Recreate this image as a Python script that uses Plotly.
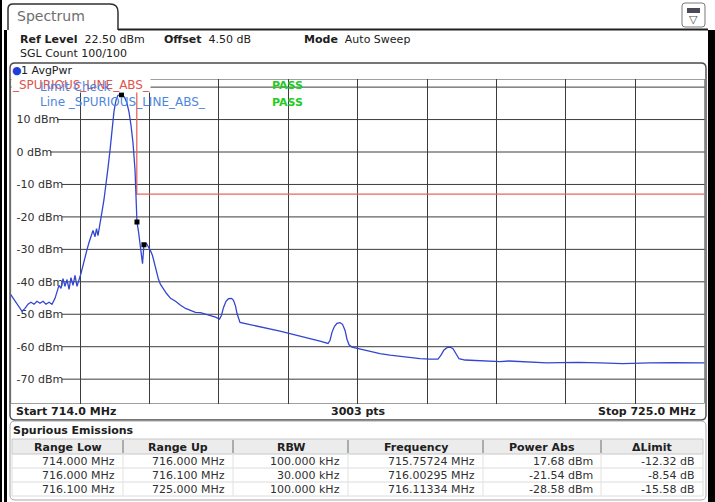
import plotly.graph_objects as go

W, H = 715, 502
def px(x): return x / W
def py(y): return 1 - y / H

# ---------------- data ----------------
freq_mhz = [714.000, 714.054, 714.117, 714.181, 714.228, 714.276, 714.323, 714.371, 714.418, 714.466,
            714.514, 714.561, 714.609, 714.656, 714.704, 714.735, 714.767, 714.799, 714.831, 714.862,
            714.894, 714.926, 714.957, 714.989, 715.021, 715.052, 715.084, 715.116, 715.147, 715.179,
            715.211, 715.243, 715.274, 715.306, 715.338, 715.362, 715.385, 715.417, 715.449, 715.480,
            715.512, 715.544, 715.576, 715.607, 715.639, 715.671, 715.702, 715.734, 715.757, 715.782,
            715.813, 715.845, 715.877, 715.908, 715.940, 715.972, 715.996, 716.003, 716.027, 716.043,
            716.059, 716.075, 716.091, 716.102, 716.113, 716.154, 716.186, 716.218, 716.249, 716.281,
            716.313, 716.345, 716.376, 716.424, 716.472, 716.535, 716.614, 716.694, 716.773, 716.852,
            716.931, 717.010, 717.090, 717.169, 717.248, 717.311, 717.343, 717.375, 717.414, 717.454,
            717.502, 717.533, 717.565, 717.588, 717.612, 717.636, 717.794, 717.953, 718.111, 718.270,
            718.428, 718.587, 718.746, 718.904, 719.031, 719.063, 719.095, 719.134, 719.173, 719.221,
            719.261, 719.300, 719.332, 719.364, 719.411, 719.538, 719.696, 719.855, 720.013, 720.172,
            720.330, 720.489, 720.647, 720.774, 720.822, 720.869, 720.917, 720.964, 721.012, 721.060,
            721.107, 721.202, 721.440, 721.757, 721.900, 722.232, 722.500, 722.708, 723.000, 723.342,
            723.700, 724.134, 724.500, 725.000]
level_dbm = [-43.9, -45.4, -47.5, -49.1, -48.2, -46.9, -46.3, -46.9, -46.0, -46.6,
             -46.0, -46.9, -46.3, -46.9, -45.1, -42.9, -41.1, -42.0, -39.0, -41.4,
             -39.3, -42.3, -38.7, -41.1, -38.0, -41.4, -39.6, -37.4, -35.0, -32.2,
             -30.1, -27.9, -25.8, -24.2, -26.1, -23.6, -25.8, -21.5, -18.4, -14.7,
             -10.4, -4.9, 0.6, 7.4, 12.6, 16.0, 17.5, 17.6, 17.68, 17.5,
             16.6, 15.0, 12.3, 8.3, 2.8, -5.5, -14.7, -21.54, -24.5, -27.0,
             -30.1, -32.5, -34.4, -31.5, -28.58, -28.2, -29.1, -30.4, -31.9, -34.4,
             -37.1, -39.3, -40.8, -42.3, -43.6, -45.1, -46.0, -47.2, -48.2, -48.8,
             -49.4, -49.5, -50.0, -50.3, -50.9, -51.5, -50.3, -47.9, -46.0, -45.2,
             -45.1, -45.7, -47.5, -49.7, -51.5, -52.5, -53.2, -53.8, -54.6, -55.2,
             -56.0, -56.7, -57.5, -58.3, -59.0, -58.0, -55.5, -53.7, -52.8, -52.6,
             -53.1, -54.9, -57.7, -59.4, -60.1, -60.7, -61.5, -62.1, -62.6, -63.0,
             -63.3, -63.7, -63.8, -63.8, -62.6, -61.0, -60.3, -60.1, -60.6, -62.0,
             -63.7, -64.1, -64.3, -64.6, -64.4, -64.7, -65.0, -64.9, -64.8, -65.0,
             -65.2, -65.0, -64.9, -65.0]

limit_freq = [714.0, 716.0, 716.0, 716.1, 725.0]
limit_dbm = [30.0, 30.0, -13.0, -13.0, -13.0]

peak_freq = [715.75724, 716.00295, 716.11334]
peak_dbm = [17.68, -21.54, -28.58]

y_tick_vals = [10, 0, -10, -20, -30, -40, -50, -60, -70]
y_tick_labels = ['10 dBm', '0 dBm', '-10 dBm', '-20 dBm', '-30 dBm', '-40 dBm', '-50 dBm', '-60 dBm', '-70 dBm']

table_header = ['Range Low', 'Range Up', 'RBW', 'Frequency', 'Power Abs', 'ΔLimit']
range_low = ['714.000 MHz', '716.000 MHz', '716.100 MHz']
range_up = ['716.000 MHz', '716.100 MHz', '725.000 MHz']
rbw = ['100.000 kHz', '30.000 kHz', '100.000 kHz']
frequency = ['715.75724 MHz', '716.00295 MHz', '716.11334 MHz']
power_abs = ['17.68 dBm', '-21.54 dBm', '-28.58 dBm']
delta_limit = ['-12.32 dB', '-8.54 dB', '-15.58 dB']

# ---------------- style ----------------
FONT = 'DejaVu Sans'
TRACE_C = '#3346d0'
LIMIT_C = '#e8665e'
GRID_C = '#3c3c3c'
BLUE_TXT = '#4d86dc'
GREEN_TXT = '#22cc22'
RED_TXT = '#e0544c'

X0P, X1P = 10.6, 704.6   # plot pixel extents
Y0P, Y1P = 79.0, 403.5

fig = go.Figure()
fig.add_trace(go.Scatter(x=limit_freq, y=limit_dbm, mode='lines',
                         line=dict(color=LIMIT_C, width=1.3), hoverinfo='skip'))
fig.add_trace(go.Scatter(x=freq_mhz, y=level_dbm, mode='lines',
                         line=dict(color=TRACE_C, width=1.3)))
fig.add_trace(go.Scatter(x=peak_freq, y=peak_dbm, mode='markers',
                         marker=dict(symbol='square', size=5, color='black')))

shapes = []
def line(x0, y0, x1, y1, color, w=1, layer='above'):
    shapes.append(dict(type='line', xref='paper', yref='paper', x0=px(x0), y0=py(y0),
                       x1=px(x1), y1=py(y1), line=dict(color=color, width=w), layer=layer))
def rect(x0, y0, x1, y1, fill, color=None, w=0, layer='below'):
    shapes.append(dict(type='rect', xref='paper', yref='paper', x0=px(x0), y0=py(y0),
                       x1=px(x1), y1=py(y1), fillcolor=fill,
                       line=dict(color=color or fill, width=w), layer=layer))
def rrect(x0, y0, x1, y1, r, color, w=1, layer='above', fill=None):
    P = lambda x, y: f"{px(x):.5f},{py(y):.5f}"
    path = (f"M {P(x0+r,y0)} L {P(x1-r,y0)} Q {P(x1,y0)} {P(x1,y0+r)} "
            f"L {P(x1,y1-r)} Q {P(x1,y1)} {P(x1-r,y1)} L {P(x0+r,y1)} "
            f"Q {P(x0,y1)} {P(x0,y1-r)} L {P(x0,y0+r)} Q {P(x0,y0)} {P(x0+r,y0)} Z")
    d = dict(type='path', xref='paper', yref='paper', path=path,
             line=dict(color=color, width=w), layer=layer)
    if fill:
        d['fillcolor'] = fill
    shapes.append(d)

# horizontal grid lines (start after the inside labels)
label_end = {10: 57, 0: 50}
for v in y_tick_vals:
    xs = label_end.get(v, 62)
    shapes.append(dict(type='line', xref='paper', yref='y', x0=px(xs), x1=px(X1P), y0=v, y1=v,
                       line=dict(color=GRID_C, width=1), layer='below'))
shapes.append(dict(type='line', xref='paper', yref='y', x0=px(X0P), x1=px(X1P), y0=20, y1=20,
                   line=dict(color=GRID_C, width=1), layer='below'))
# plot border
shapes.append(dict(type='rect', xref='x', yref='y', x0=714, x1=725, y0=-77.5, y1=22.5,
                   line=dict(color='#404040', width=1), layer='below'))

# diagram frame
rrect(10, 63, 706, 420, 5, '#4a4a4a', 1.4)
# tab + header line
P = lambda x, y: f"{px(x):.5f},{py(y):.5f}"
shapes.append(dict(type='path', xref='paper', yref='paper',
                   path=f"M {P(8,30)} L {P(8,9)} Q {P(8,4)} {P(13,4)} L {P(110,4)} Q {P(118,4)} {P(118,12)} L {P(118,30)}",
                   line=dict(color='#303030', width=1.5)))
line(118, 29.5, 708, 29.5, '#202020', 2)
# icon top right
rrect(682, 3, 705, 27, 3, '#7a7a7a', 1)
rect(687, 8, 700, 13, '#4a4a58', layer='above')

# spurious emissions panel
rrect(10, 421, 706, 500, 5, '#a8a8a8', 1)
col_edges = [12, 123, 233, 348, 483, 601, 703]
rect(12, 439, 703, 454, '#ececec', '#c8c8c8', 1)
for yy in [468, 482, 496]:
    line(12, yy, 703, yy, '#dcdcdc', 1)
for xe in col_edges[1:-1]:
    line(xe, 440, xe, 453, '#8a8a8a', 1.3)
    line(xe, 454, xe, 496, '#e2e2e2', 1)
line(12, 454, 12, 496, '#dcdcdc', 1)
line(703, 454, 703, 496, '#dcdcdc', 1)

# outer black borders (window frame of the screenshot)
BORDERS = [(0, 2, 0), (4, 7, 30), (708, 715, 30)]
for x0, x1, y0 in BORDERS:
    shapes.append(dict(type='rect', xref='paper', yref='paper', x0=px(x0), x1=px(x1),
                       y0=py(502), y1=py(y0), fillcolor='black', line=dict(width=0), layer='above'))

# ---------------- annotations ----------------
ann = []
def text(x, y, s, size=11, color='#202020', xanchor='left', bg=None, yanchor='middle'):
    d = dict(xref='paper', yref='paper', x=px(x), y=py(y), text=s, showarrow=False,
             xanchor=xanchor, yanchor=yanchor, font=dict(family=FONT, size=size, color=color),
             borderpad=0)
    if bg:
        d['bgcolor'] = bg
    ann.append(d)

text(16, 16, 'Spectrum', 14, '#6e6e6e')
text(693, 20, '▽', 11, '#505050', 'center')
text(19, 39, '<b>Ref Level</b>  22.50 dBm', 11)
text(163, 39, '<b>Offset</b>  4.50 dB', 11)
text(303, 39, '<b>Mode</b>  Auto Sweep', 11)
text(19, 53, 'SGL Count 100/100', 11)
text(20, 71, '1 AvgPwr', 11)
ann.append(dict(xref='paper', yref='paper', x=px(16.5), y=py(71), text='●', showarrow=False,
                xanchor='center', yanchor='middle', font=dict(family=FONT, size=11, color='#1f3fd8')))

text(11, 85, '_SPURIOUS_LINE_ABS_', 12, RED_TXT, bg='white')
text(39, 87, 'Limit Check', 12, BLUE_TXT)
text(39, 102, 'Line _SPURIOUS_LINE_ABS_', 12, BLUE_TXT)
text(271, 86, '<b>PASS</b>', 11, GREEN_TXT)
text(271, 102, '<b>PASS</b>', 11, GREEN_TXT)

text(15, 411.5, '<b>Start 714.0 MHz</b>', 11)
text(358, 411.5, '<b>3003 pts</b>', 11, xanchor='center')
text(697, 411.5, '<b>Stop 725.0 MHz</b>', 11, xanchor='right')

text(12, 430, '<b>Spurious Emissions</b>', 11)
for i, h in enumerate(table_header):
    cx = (col_edges[i] + col_edges[i + 1]) / 2
    text(cx, 447, f'<b>{h}</b>', 11, '#202020', 'center')
cols = [range_low, range_up, rbw, frequency, power_abs, delta_limit]
row_y = [461.5, 475.5, 489.5]
for ci, col in enumerate(cols):
    for ri, v in enumerate(col):
        text(col_edges[ci + 1] - 7, row_y[ri], v, 11, '#303030', 'right')

fig.update_layout(
    width=W, height=H, autosize=False, margin=dict(l=0, r=0, t=0, b=0),
    paper_bgcolor='white', plot_bgcolor='white', showlegend=False,
    xaxis=dict(domain=[px(X0P), px(X1P)], range=[714, 725], showgrid=True, gridcolor=GRID_C,
               gridwidth=1, tick0=714, dtick=1.1, showticklabels=False, ticks='',
               zeroline=False, showline=False),
    yaxis=dict(domain=[py(Y1P), py(Y0P)], range=[-77.5, 22.5], tickvals=y_tick_vals,
               ticktext=y_tick_labels, ticklabelposition='inside', ticks='', showgrid=False,
               zeroline=False, showline=False, layer='below traces', ticklabelstandoff=3,
               tickfont=dict(family=FONT, size=11, color='#303030')),
    shapes=shapes, annotations=ann,
)

# page setup: no body margin; window-frame bars also pinned as page elements
js = ["document.body.style.margin='0';", "document.body.style.padding='0';",
      "document.body.style.overflow='hidden';"]
for x0, x1, y0 in BORDERS:
    js.append("(function(){var d=document.createElement('div');"
              f"d.style.cssText='position:fixed;left:{x0}px;top:{y0}px;width:{x1 - x0}px;"
              f"height:{H - y0}px;background:#000;z-index:1000;pointer-events:none';"
              "document.body.appendChild(d);})();")
fig.write_html('out.html', config={'displayModeBar': False}, post_script=''.join(js))
